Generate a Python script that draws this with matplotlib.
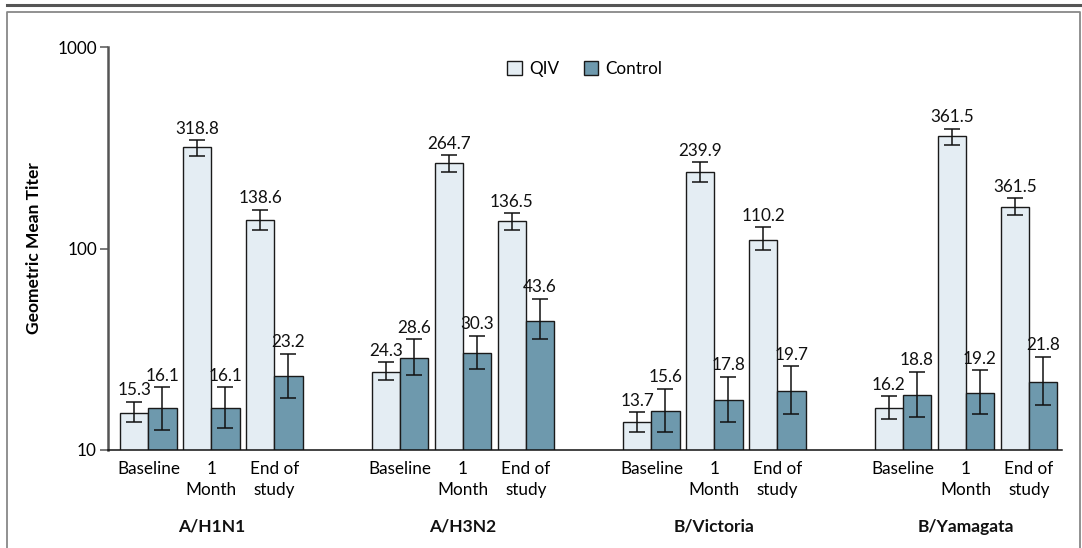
import numpy as np
import matplotlib
matplotlib.use('Agg')
from matplotlib import pyplot as plt
from matplotlib.lines import Line2D
from matplotlib.patches import Patch
from matplotlib.ticker import FixedLocator, NullLocator

plt.rcParams['font.family'] = ['Lato', 'DejaVu Sans']

strains = ['A/H1N1', 'A/H3N2', 'B/Victoria', 'B/Yamagata']
timepoints = ['Baseline', '1\nMonth', 'End of\nstudy']

# geometric mean titers, order: baseline, 1 month, end of study per strain
qiv = [15.3, 318.8, 138.6,
       24.3, 264.7, 136.5,
       13.7, 239.9, 110.2,
       16.2, 361.5, 161.0]
qiv_lo = [13.7, 287.0, 123.0,
          22.3, 241.0, 124.0,
          12.3, 215.0, 98.3,
          14.3, 328.0, 146.6]
qiv_hi = [17.4, 345.0, 156.0,
          27.2, 290.0, 150.0,
          15.4, 268.0, 127.4,
          18.5, 394.0, 177.5]
ctrl = [16.1, 16.1, 23.2,
        28.6, 30.3, 43.6,
        15.6, 17.8, 19.7,
        18.8, 19.2, 21.8]
ctrl_lo = [12.6, 12.8, 18.2,
           23.6, 25.1, 35.6,
           12.3, 13.7, 15.1,
           14.5, 15.1, 16.7]
ctrl_hi = [20.5, 20.5, 30.1,
           35.4, 36.9, 56.2,
           20.1, 23.1, 26.1,
           24.5, 24.9, 29.0]
# printed labels (the last QIV label is as printed in the source figure)
qiv_labels = ['15.3', '318.8', '138.6', '24.3', '264.7', '136.5',
              '13.7', '239.9', '110.2', '16.2', '361.5', '361.5']
ctrl_labels = ['16.1', '16.1', '23.2', '28.6', '30.3', '43.6',
               '15.6', '17.8', '19.7', '18.8', '19.2', '21.8']

qiv_color = '#E4EDF3'
ctrl_color = '#6E99AD'
fs = 12.3

fig = plt.figure(figsize=(10.82, 5.48), dpi=100)
ax = fig.add_axes([108/1082, 1 - 450/548, (1062-108)/1082, (450-47)/548])

bw = 0.112
pair = 0.2505
pos = np.array([g + (t - 1) * pair for g in range(4) for t in range(3)])

qiv = np.array(qiv)
ctrl = np.array(ctrl)
ax.bar(pos - bw/2, qiv, bw, color=qiv_color, edgecolor='#1a1a1a', linewidth=1.0, zorder=2)
ax.bar(pos + bw/2, ctrl, bw, color=ctrl_color, edgecolor='#1a1a1a', linewidth=1.0, zorder=2)

ax.errorbar(pos - bw/2, qiv, yerr=[qiv - np.array(qiv_lo), np.array(qiv_hi) - qiv],
            fmt='none', ecolor='#111111', elinewidth=1.1, capsize=6, capthick=1.1, zorder=3)
ax.errorbar(pos + bw/2, ctrl, yerr=[ctrl - np.array(ctrl_lo), np.array(ctrl_hi) - ctrl],
            fmt='none', ecolor='#111111', elinewidth=1.1, capsize=6, capthick=1.1, zorder=3)

for x, top, lab in zip(pos - bw/2, qiv_hi, qiv_labels):
    ax.annotate(lab, (x, top), xytext=(0, 2.5), textcoords='offset points',
                ha='center', va='bottom', fontsize=fs, color='#111111')
for x, top, lab in zip(pos + bw/2, ctrl_hi, ctrl_labels):
    ax.annotate(lab, (x, top), xytext=(0, 2.5), textcoords='offset points',
                ha='center', va='bottom', fontsize=fs, color='#111111')

ax.set_yscale('log')
ax.set_ylim(10, 1000)
ax.set_xlim((108-211.4)/251.5, (1062-211.4)/251.5)
ax.yaxis.set_major_locator(FixedLocator([10, 100, 1000]))
ax.yaxis.set_minor_locator(NullLocator())
ax.set_yticklabels(['10', '100', '1000'])
ax.tick_params(axis='y', direction='out', length=6, width=1.1, color='#555555',
               labelsize=fs, pad=2)
ax.set_xticks(pos)
ax.set_xticklabels(timepoints * 4, fontsize=fs, linespacing=1.35)
ax.tick_params(axis='x', length=0, pad=8)

for s in ['top', 'right']:
    ax.spines[s].set_visible(False)
ax.spines['left'].set_color('#555555')
ax.spines['left'].set_linewidth(1.8)
ax.spines['bottom'].set_color('#111111')
ax.spines['bottom'].set_linewidth(1.1)

ax.set_ylabel('Geometric Mean Titer', fontsize=12.5, fontweight='bold')
ax.yaxis.set_label_coords(-(108-42)/954, 0.5)

for g, name in enumerate(strains):
    ax.text(g, -(527-450)/403, name, transform=ax.get_xaxis_transform(), ha='center', va='center',
            fontsize=12.5, fontweight='bold', color='#111111')

handles = [Patch(facecolor=qiv_color, edgecolor='#1a1a1a', linewidth=1.0),
           Patch(facecolor=ctrl_color, edgecolor='#1a1a1a', linewidth=1.0)]
fig.legend(handles, ['QIV', 'Control'], loc='center', bbox_to_anchor=(585/1082, 1 - 69/548),
           ncol=2, frameon=False, fontsize=fs, handlelength=0.85, handleheight=0.85,
           handletextpad=0.45, columnspacing=1.4)

# panel frame
W, H = 1082, 548
fig.add_artist(Line2D([7/W, 1080/W], [1 - 4.5/H, 1 - 4.5/H], color='#555555', linewidth=2.2))
fig.add_artist(Line2D([7/W, 7/W, 1079.5/W, 1079.5/W],
                      [0, 1 - 11.5/H, 1 - 11.5/H, 0], color='#888888', linewidth=1.3))

fig.savefig('out.png', dpi=100)
